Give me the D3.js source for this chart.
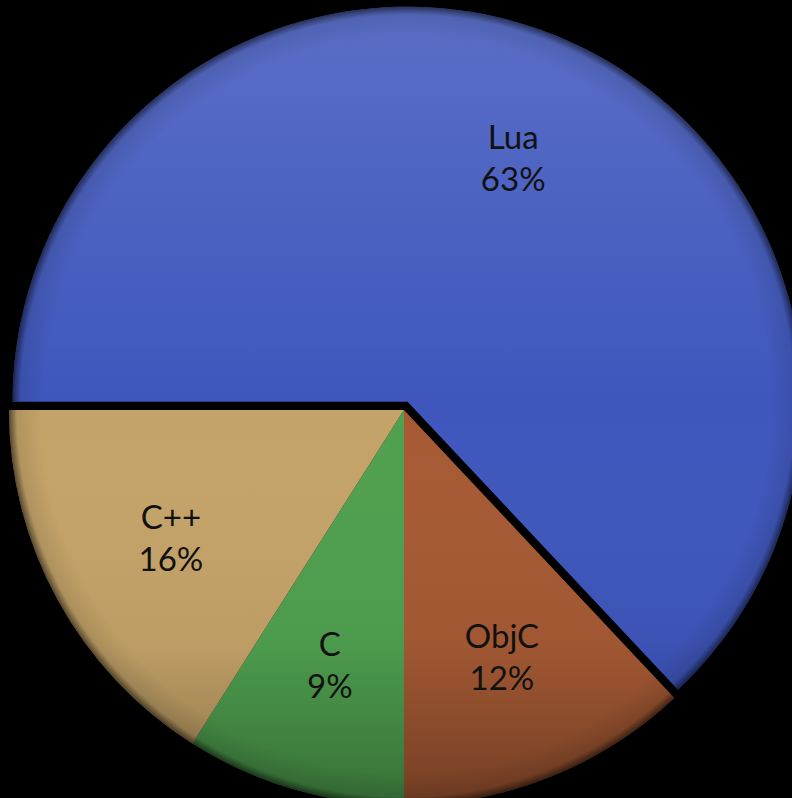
<!DOCTYPE html>
<html>
<head>
<meta charset="utf-8">
<script src="https://cdn.jsdelivr.net/npm/d3@7"></script>
<style>
  body { margin: 0; background: #000; }
  svg { display: block; }
  text { font-family: Lato, "Open Sans", sans-serif; }
</style>
</head>
<body>
<svg id="chart" width="792" height="798"></svg>
<script>
// slice data, in drawing order (clockwise from 9 o'clock)
var languages = ["Lua", "ObjC", "C", "C++"];
var shares = [63, 12, 9, 16];
var colors = ["#3f57bd", "#a65a34", "#4fa04f", "#c4a368"];
var exploded = ["Lua"];

var svg = d3.select("#chart"),
    cx = 404, cy = 410,
    radius = 395,
    pull = 9,
    labelR = 266;

var data = languages.map((name, i) => ({name: name, value: shares[i], color: colors[i]}));

var pie = d3.pie()
    .sort(null)
    .value(d => d.value)
    .startAngle(-Math.PI / 2)
    .endAngle(Math.PI * 1.5);

var arc = d3.arc().innerRadius(0).outerRadius(radius);
var labelArc = d3.arc().innerRadius(labelR).outerRadius(labelR);

var defs = svg.append("defs");

// soft rim: dark at the very edge
var rim = defs.append("radialGradient")
    .attr("id", "rim")
    .attr("gradientUnits", "userSpaceOnUse")
    .attr("cx", 0).attr("cy", 0).attr("r", radius);
rim.append("stop").attr("offset", 0).attr("stop-color", "#000").attr("stop-opacity", 0);
rim.append("stop").attr("offset", 0.92).attr("stop-color", "#000").attr("stop-opacity", 0);
rim.append("stop").attr("offset", 0.98).attr("stop-color", "#000").attr("stop-opacity", 0.1);
rim.append("stop").attr("offset", 1).attr("stop-color", "#000").attr("stop-opacity", 0.55);

// light from the top
var light = defs.append("linearGradient")
    .attr("id", "light")
    .attr("gradientUnits", "userSpaceOnUse")
    .attr("x1", 0).attr("y1", -radius).attr("x2", 0).attr("y2", radius);
light.append("stop").attr("offset", 0).attr("stop-color", "#fff").attr("stop-opacity", 0.14);
light.append("stop").attr("offset", 0.5).attr("stop-color", "#fff").attr("stop-opacity", 0);
light.append("stop").attr("offset", 0.8).attr("stop-color", "#000").attr("stop-opacity", 0.04);
light.append("stop").attr("offset", 1).attr("stop-color", "#000").attr("stop-opacity", 0.3);

var slices = svg.selectAll("g.slice")
  .data(pie(data))
  .join("g")
    .attr("class", "slice")
    .attr("transform", d => {
      var dx = 0, dy = 0;
      if (exploded.includes(d.data.name)) {
        var mid = (d.startAngle + d.endAngle) / 2;
        dx = Math.sin(mid) * pull;
        dy = -Math.cos(mid) * pull;
      }
      return "translate(" + (cx + dx) + "," + (cy + dy) + ")";
    });

slices.append("path")
    .attr("d", arc)
    .attr("fill", d => d.data.color);

slices.append("path")
    .attr("d", arc)
    .attr("fill", "url(#light)");

slices.append("path")
    .attr("d", arc)
    .attr("fill", "url(#rim)");

var labels = slices.append("text")
    .attr("transform", d => "translate(" + labelArc.centroid(d) + ")")
    .attr("text-anchor", "middle")
    .attr("font-size", 33)
    .attr("fill", "#111");

labels.append("tspan")
    .attr("x", 0)
    .attr("y", -9)
    .text(d => d.data.name);

labels.append("tspan")
    .attr("x", 0)
    .attr("y", 33)
    .text(d => d.data.value + "%");
</script>
</body>
</html>
